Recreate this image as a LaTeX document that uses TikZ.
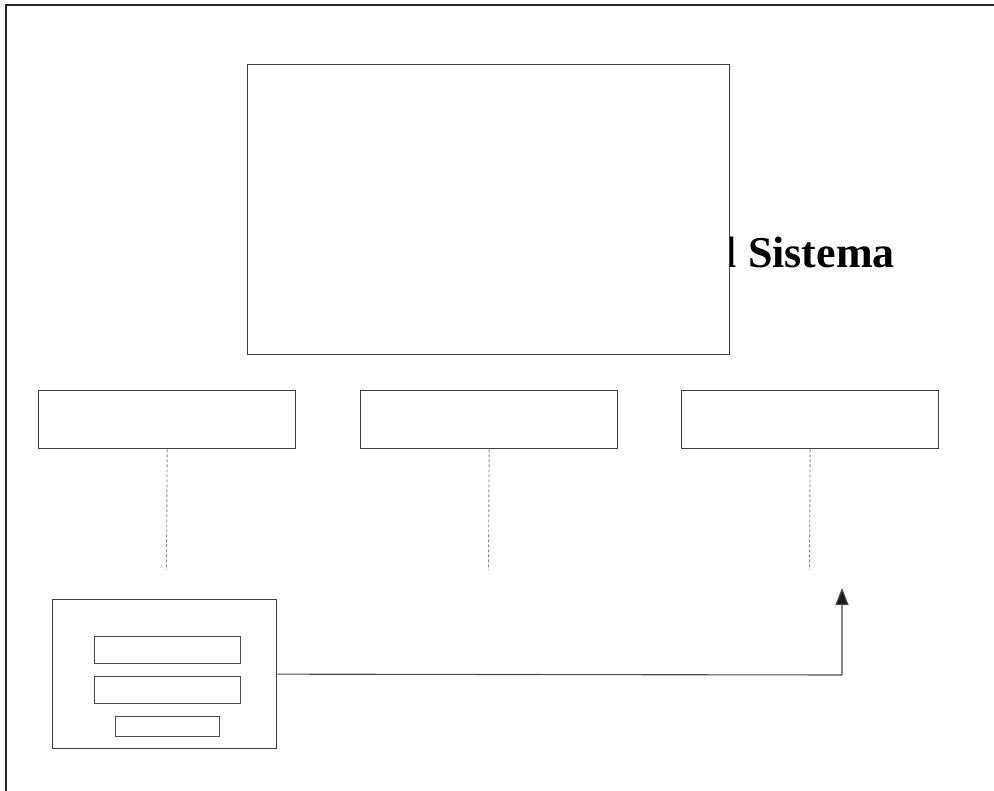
\documentclass[tikz,border=0pt]{standalone}
\usepackage{fontspec}
\setmainfont{Liberation Serif}
\usetikzlibrary{arrows.meta}
\begin{document}
\begin{tikzpicture}[x=1pt,y=-1pt,
  box/.style={draw=black!75,line width=1.3pt,fill=white,inner sep=0pt,anchor=north west},
  field/.style={draw=black!70,line width=1.1pt,fill=white,inner sep=0pt,anchor=north west},
  link/.style={draw=black!45,line width=0.9pt,dash pattern=on 3pt off 2pt},
  flow/.style={draw=black!70,line width=1.1pt,-{Triangle[length=17pt,width=13pt,fill=black!90]}}]
\useasboundingbox (0,0) rectangle (994,791);
% outer frame (top and left edges)
\draw[black!85,line width=1.4pt] (994,5) -- (6,5) -- (6,791);
% title, partly covered by the big box
\node[anchor=base east,font=\bfseries\fontsize{44}{48}\selectfont,inner sep=0pt] (title) at (895,268) {del Sistema};
% big box
\node[box,minimum width=482pt,minimum height=290pt] (main) at (247,64) {};
% three boxes
\node[box,minimum width=257pt,minimum height=58pt] (b1) at (38,390) {};
\node[box,minimum width=257pt,minimum height=58pt] (b2) at (360,390) {};
\node[box,minimum width=257pt,minimum height=58pt] (b3) at (681,390) {};
\coordinate (e1) at (166.5,570);
\coordinate (e2) at (488.5,570);
\coordinate (e3) at (809.5,570);
\draw[link] (b1.south) -- (e1);
\draw[link] (b2.south) -- (e2);
\draw[link] (b3.south) -- (e3);
% form box
\node[box,minimum width=224pt,minimum height=149pt] (form) at (52,599) {};
\node[field,minimum width=146pt,minimum height=27pt] (f1) at (94,636) {};
\node[field,minimum width=146pt,minimum height=27pt] (f2) at (94,676) {};
\node[field,minimum width=104pt,minimum height=20pt] (f3) at (115,716) {};
\coordinate (tip) at (842,588);
\draw[flow] (form.east) -- (842,675) -- (tip);
\end{tikzpicture}
\end{document}
